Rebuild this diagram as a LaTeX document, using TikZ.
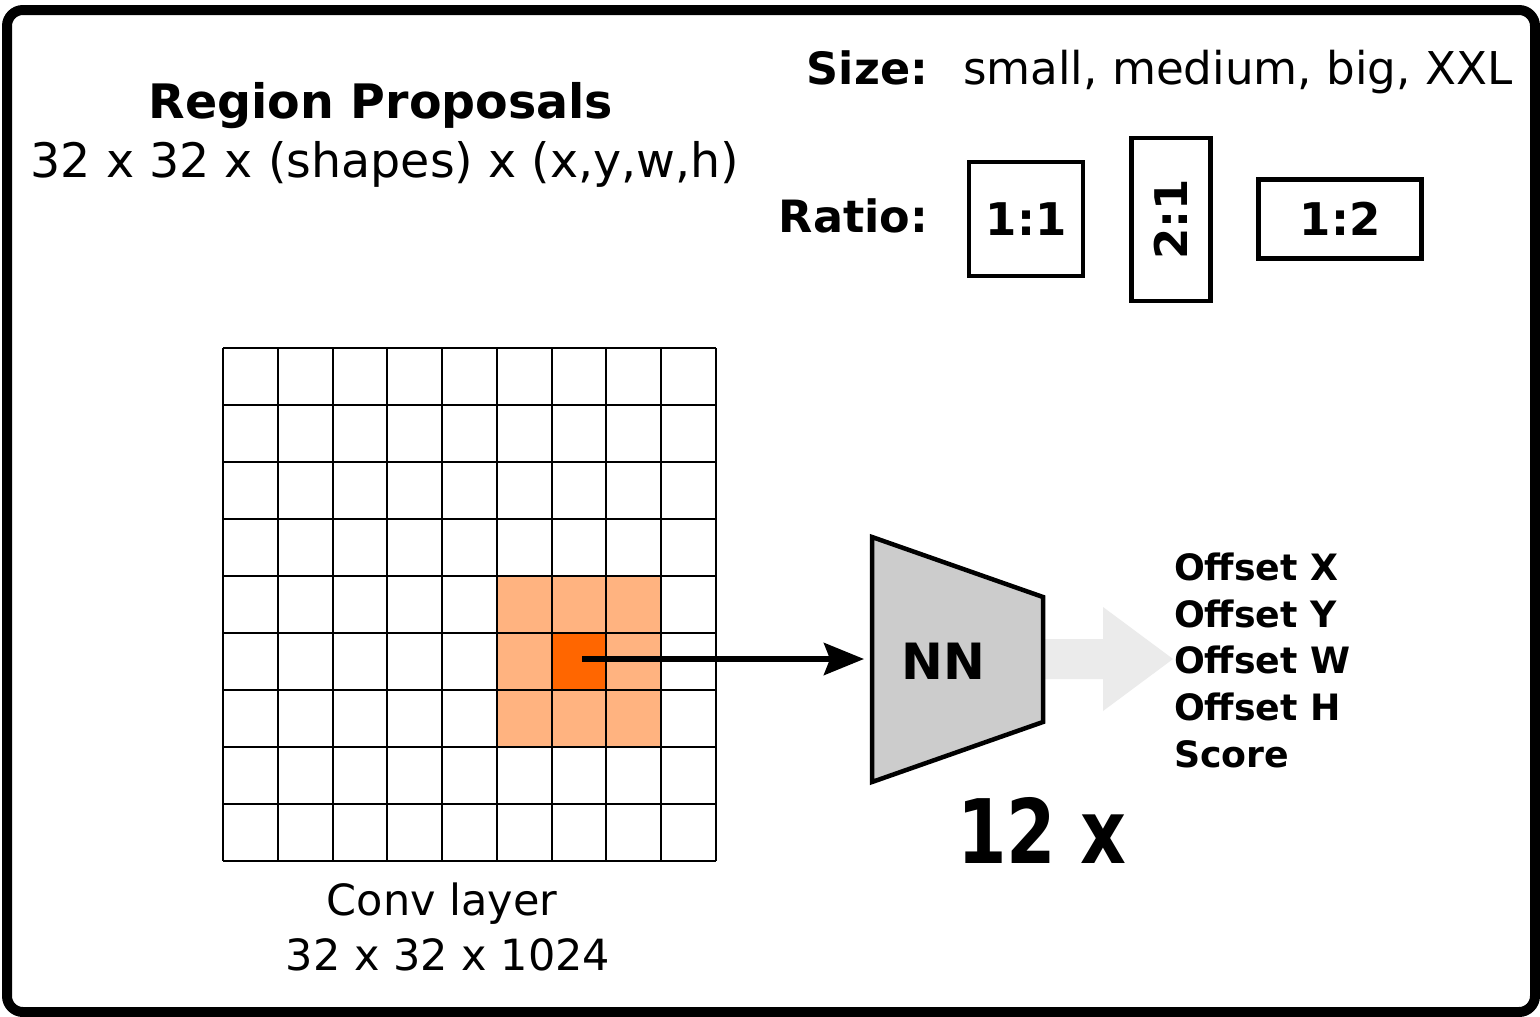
\documentclass[tikz,border=0pt]{standalone}
\usepackage{fontspec}
\setmainfont{DejaVu Sans}
\usetikzlibrary{arrows.meta}
\definecolor{lightor}{HTML}{FFB380}
\definecolor{darkor}{HTML}{FF6600}
\definecolor{nngrey}{HTML}{CCCCCC}
\definecolor{outarrow}{HTML}{EBEBEB}
\newcommand{\fs}[1]{\fontsize{#1}{#1}\selectfont}
\begin{document}
\begin{tikzpicture}[x=1pt,y=-1pt,
  txt/.style={inner sep=0pt, outer sep=0pt},
  ratiobox/.style={draw, line width=4.5pt, inner sep=0pt},
  gridline/.style={line width=2pt},
]
\useasboundingbox (0,0) rectangle (1540,1017);
\fill[white] (0,0) rectangle (1540,1017);
% frame
\draw[line width=10pt, rounded corners=16pt] (7,10) rectangle (1535,1012);

% titles
\node[txt, anchor=base] (title) at (381,118) {\fs{47.5}\bfseries Region Proposals};
\node[txt, anchor=base] (dims) at (385,177) {\fs{47.5}32 x 32 x (shapes) x (x,y,w,h)};

\node[txt, anchor=base east] (sizel) at (928,84) {\fs{44.5}\bfseries Size:};
\node[txt, anchor=base west] (sizes) at (963,84) {\fs{45.2}small, medium, big, XXL};
\node[txt, anchor=base east] (ratiol) at (928,232) {\fs{44.5}\bfseries Ratio:};

% ratio boxes
\node[ratiobox, minimum width=114pt, minimum height=114pt] (r11) at (1026,219) {};
\node[txt] at (r11.center) {\fs{45}\bfseries 1:1};
\node[ratiobox, minimum width=79pt, minimum height=163pt] (r21) at (1171,219.5) {};
\node[txt, rotate=90] at (r21.center) {\fs{45}\bfseries 2:1};
\node[ratiobox, minimum width=163pt, minimum height=79pt] (r12) at (1340,219) {};
\node[txt] at (r12.center) {\fs{45}\bfseries 1:2};

% conv grid
\def\gx{223}\def\gy{348}\def\cw{54.778}\def\ch{57}
\fill[lightor] (\gx+5*\cw,\gy+4*\ch) rectangle (\gx+8*\cw,\gy+7*\ch);
\fill[darkor] (\gx+6*\cw,\gy+5*\ch) rectangle (\gx+7*\cw,\gy+6*\ch);
\foreach \i in {0,...,9}{
  \draw[gridline] (\gx+\i*\cw,\gy) -- (\gx+\i*\cw,\gy+9*\ch);
  \draw[gridline] (\gx,\gy+\i*\ch) -- (\gx+9*\cw,\gy+\i*\ch);
}
\coordinate (cell) at (582,659);
\node[txt, anchor=base] (conv1) at (442,915) {\fs{43}Conv layer};
\node[txt, anchor=base] (conv2) at (448,970) {\fs{43}32 x 32 x 1024};

% output arrow (light grey)
\fill[outarrow] (1045,639) -- (1103,639) -- (1103,607) -- (1173,659)
  -- (1103,711) -- (1103,679) -- (1045,679) -- cycle;

% NN trapezoid
\draw[line width=4.5pt, fill=nngrey, line join=miter]
  (872,537) -- (1043,597) -- (1043,722) -- (872,782) -- cycle;
\coordinate (nnin) at (872,659);
\node[txt, anchor=base] (nn) at (943.5,679) {\fs{50}\bfseries NN};
\node[txt, anchor=base west] (times) at (957,863)
  {\scalebox{0.8}[1]{\fs{89}\bfseries 12 x}};

% arrow from cell to NN
\draw[line width=5.5pt, -{Stealth[length=40pt, width=32pt, inset=6pt]}]
  (cell) -- ([xshift=-8pt]nnin);

% outputs
\node[txt, anchor=base west] (ox) at (1174,580) {\fs{36.3}\bfseries Offset X};
\node[txt, anchor=base west] (oy) at (1174,627) {\fs{36.3}\bfseries Offset Y};
\node[txt, anchor=base west] (ow) at (1174,673) {\fs{36.3}\bfseries Offset W};
\node[txt, anchor=base west] (oh) at (1174,720) {\fs{36.3}\bfseries Offset H};
\node[txt, anchor=base west] (sc) at (1174,767) {\fs{36.3}\bfseries Score};
\end{tikzpicture}
\end{document}
